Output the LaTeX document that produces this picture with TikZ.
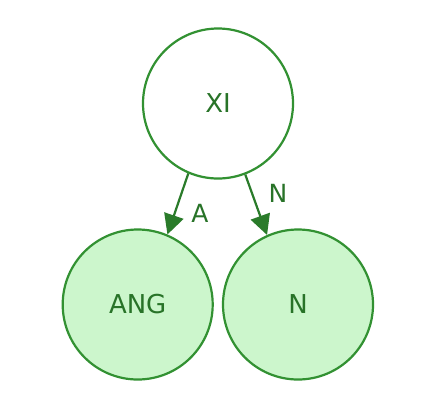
\documentclass[tikz,border=0pt]{standalone}
\usepackage{fontspec}
\setmainfont{DejaVu Sans}
\usetikzlibrary{arrows.meta}
\definecolor{gstroke}{RGB}{50,145,50}
\definecolor{gfill}{RGB}{204,246,204}
\definecolor{gtext}{RGB}{40,115,40}
\tikzset{
  nd/.style={circle,draw=gstroke,line width=2.2pt,minimum size=150pt,inner sep=0pt,text=gtext,font=\fontsize{26pt}{30pt}\selectfont},
  leaf/.style={nd,fill=gfill},
  conn/.style={draw=gstroke!85!black,line width=2.2pt,-{Triangle[length=20pt,width=20pt]}},
  lbl/.style={text=gtext,font=\fontsize{25pt}{30pt}\selectfont,inner sep=0pt}
}
\begin{document}
\begin{tikzpicture}[x=1pt,y=-1pt]
\useasboundingbox[fill=white] (0,0) rectangle (438,410);
\node[nd,fill=white] (xi) at (218,103.5) {XI};
\node[leaf] (ang) at (137.7,304.5) {ANG};
\node[leaf] (n) at (298,304.5) {N};
\draw[conn] (xi.247) -- (ang.67);
\draw[conn] (xi.291) -- (n.114);
\node[lbl] (la) at (200,213) {A};
\node[lbl] (ln) at (278,193) {N};
\end{tikzpicture}
\end{document}
